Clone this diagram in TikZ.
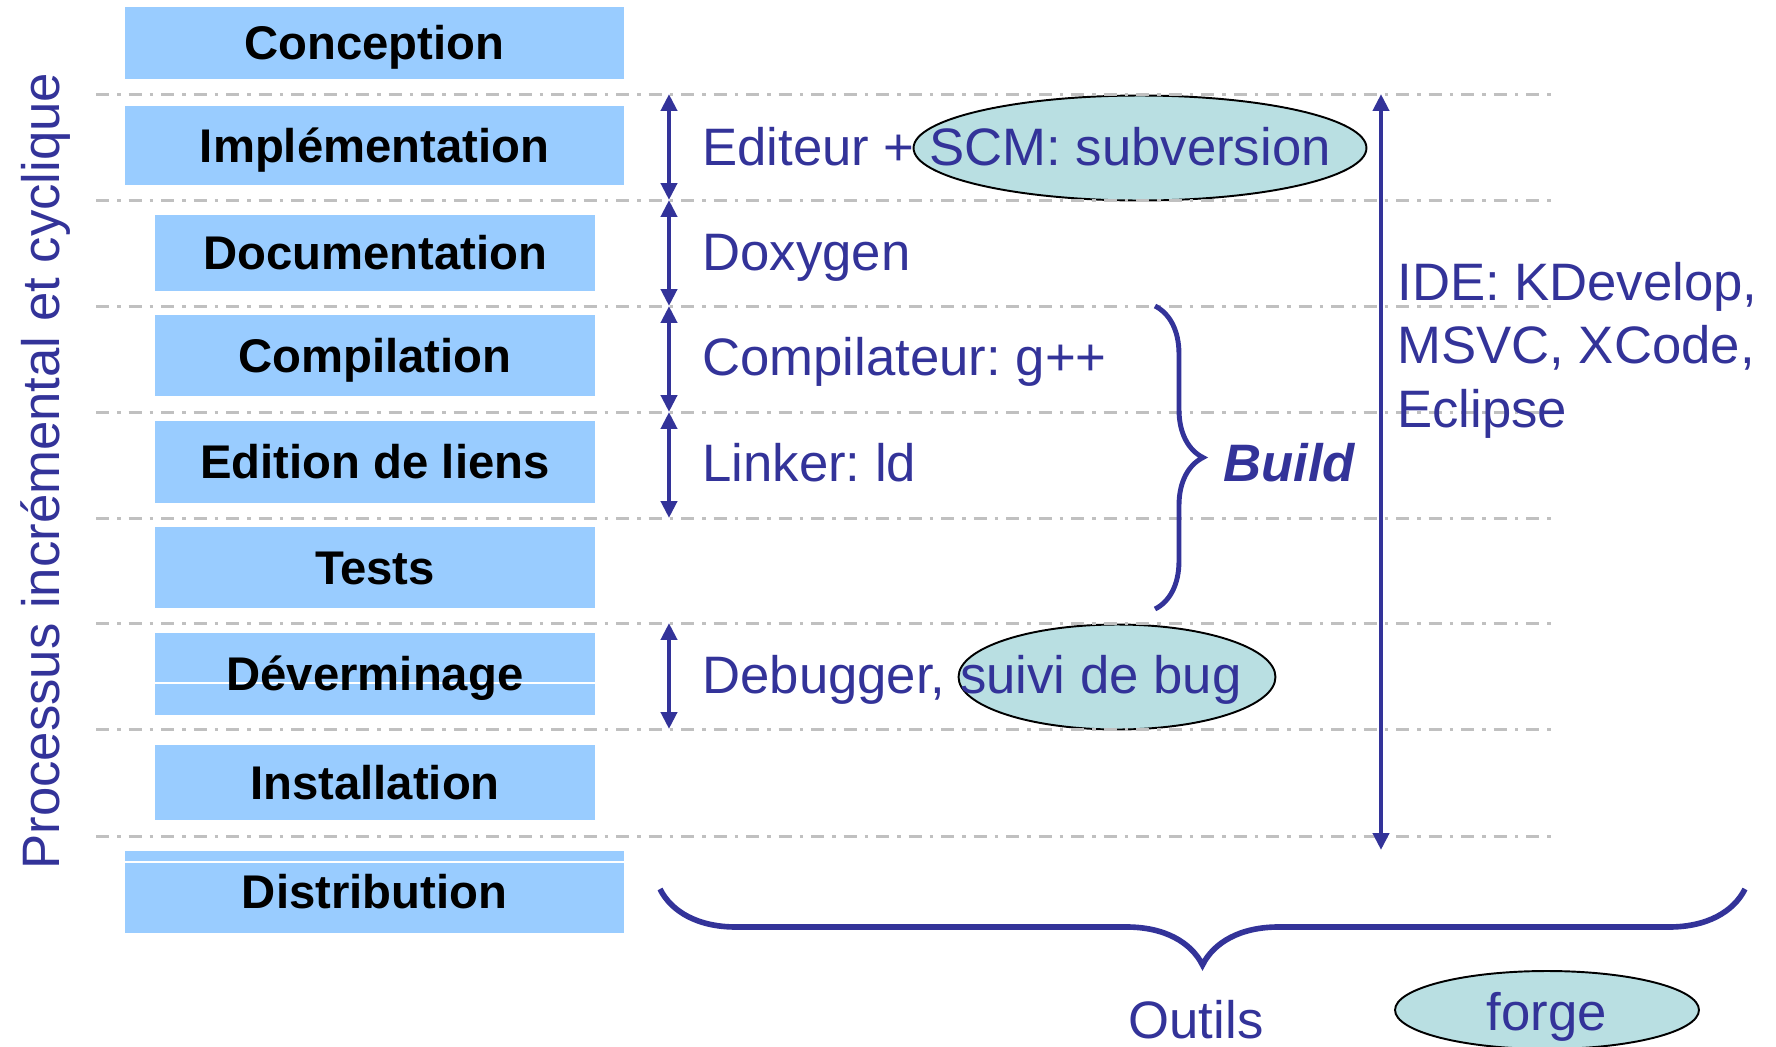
\documentclass[tikz,border=0pt]{standalone}
\usepackage{fontspec}
\setmainfont{Liberation Sans}
\usetikzlibrary{arrows.meta, shapes.geometric, decorations.pathreplacing}
\frenchspacing

\definecolor{bleu}{HTML}{333399}
\definecolor{case}{HTML}{99CCFF}
\definecolor{bulle}{HTML}{B9DFE2}
\definecolor{pointille}{HTML}{C0C0C0}

\begin{document}
\begin{tikzpicture}[x=0.02cm, y=-0.02cm,
  etape/.style={fill=case, inner sep=0pt, minimum width=8.8cm, text height=24pt, text depth=5pt,
    font=\fontsize{26.9}{30}\selectfont\bfseries},
  large/.style={minimum width=9.98cm},
  ligne blanche/.style={path picture={\draw[white, line width=0.8pt]
    ([yshift=#1]path picture bounding box.west) -- ([yshift=#1]path picture bounding box.east);}},
  separation/.style={draw=pointille, line width=1.7pt, dash pattern=on 7.5pt off 4.5pt on 2pt off 4.5pt},
  bulle/.style={ellipse, draw=black, line width=1.1pt, fill=bulle, inner sep=0pt},
  fleche/.style={draw=bleu, line width=2.4pt, {Triangle[length=9.6pt,width=9pt]}-{Triangle[length=9.6pt,width=9pt]}},
  accolade/.style={draw=bleu, decorate, decoration={brace, amplitude=#1}},
  texte/.style={text=bleu, inner sep=0pt, font=\fontsize{30}{36}\selectfont}]

\useasboundingbox (0,0) rectangle (1776,1046);

% les etapes
\node[etape, large, minimum height=1.44cm] (conception) at (374.5,43) {Conception};
\node[etape, large, minimum height=1.58cm] (implementation) at (374.5,145.5) {Implémentation};
\node[etape, minimum height=1.52cm] (documentation) at (375,253) {Documentation};
\node[etape, minimum height=1.62cm] (compilation) at (375,355.5) {Compilation};
\node[etape, minimum height=1.64cm] (edition) at (375,462) {Edition de liens};
\node[etape, minimum height=1.62cm] (tests) at (375,567.5) {Tests};
\node[etape, ligne blanche=-0.18cm, minimum height=1.64cm] (deverminage) at (375,674) {Déverminage};
\node[etape, minimum height=1.5cm] (installation) at (375,782.5) {Installation};
\node[etape, large, ligne blanche=0.6cm, minimum height=1.64cm] (distribution) at (374.5,892) {Distribution};

% les bulles
\node[bulle, minimum width=9.06cm, minimum height=2.1cm] (scm) at (1140,148) {};
\node[bulle, minimum width=6.34cm, minimum height=2.1cm] (bug) at (1117,677) {};
\node[bulle, minimum width=6.08cm, minimum height=1.56cm] (forgebulle) at (1547,1010) {};

% les separations
\foreach \y [count=\i] in {94,200,306,412,518,623,729,836} {
  \coordinate (g\i) at (96,\y);
  \coordinate (d\i) at (1554,\y);
  \coordinate (f\i) at (669,\y);
  \draw[separation] (g\i) -- (d\i);
}

% les outils
\draw[fleche] (f1) -- (f2);
\draw[fleche] (f2) -- (f3);
\draw[fleche] (f3) -- (f4);
\draw[fleche] (f4) -- (f5);
\draw[fleche] (f6) -- (f7);

\coordinate (ide haut) at (1381,94);
\coordinate (ide bas) at (1381,850);
\draw[fleche] (ide haut) -- (ide bas);

\coordinate (build haut) at (1155,306);
\coordinate (build bas) at (1155,609);
\draw[accolade=0.96cm, line width=2.8pt] (build haut) -- (build bas);

\coordinate (outils droite) at (1745,889);
\coordinate (outils gauche) at (660,889);
\draw[accolade=1.52cm, line width=3.2pt] (outils droite) -- (outils gauche);

\node[texte, anchor=base west] (editeur) at (702,165) {Editeur + SCM: subversion};
\node[texte, anchor=base west] (doxygen) at (702,270) {Doxygen};
\node[texte, anchor=base west] (compilateur) at (702,375) {Compilateur: g++};
\node[texte, anchor=base west] (linker) at (702,481) {Linker: ld};
\node[texte, anchor=base west] (debugger) at (702,693) {Debugger, suivi de bug};
\node[texte, anchor=north west, align=left] (ide) at (1397,262) {IDE: KDevelop,\\MSVC, XCode,\\Eclipse};
\node[texte, anchor=base, font=\fontsize{30}{36}\selectfont\bfseries\itshape] (build) at (1289,481) {Build};
\node[texte, anchor=base] (outils) at (1196,1038) {Outils};
\node[texte, anchor=base] (forge) at (1547,1030) {forge};

\node[texte, anchor=base, rotate=90] (processus) at (59,471) {Processus incrémental et cyclique};

\end{tikzpicture}
\end{document}
